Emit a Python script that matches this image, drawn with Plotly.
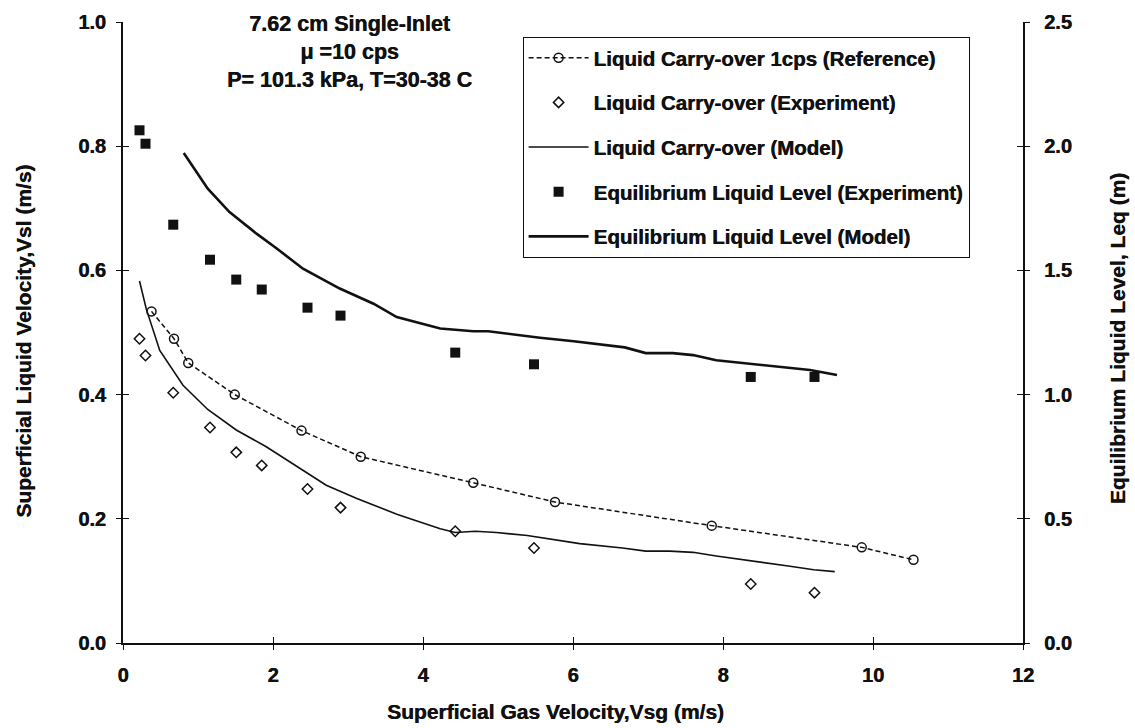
import plotly.graph_objects as go

# Liquid carry-over, 1 cps reference curve
vsg_ref = [0.38, 0.68, 0.87, 1.49, 2.38, 3.17, 4.67, 5.76, 7.85, 9.85, 10.54]
vsl_ref = [0.534, 0.490, 0.451, 0.400, 0.342, 0.300, 0.258, 0.227, 0.189, 0.154, 0.134]

# Experimental points (shared gas velocities)
vsg_exp = [0.22, 0.30, 0.67, 1.16, 1.51, 1.85, 2.46, 2.90, 4.43, 5.48, 8.37, 9.22]
vsl_exp = [0.490, 0.463, 0.403, 0.347, 0.307, 0.286, 0.248, 0.218, 0.180, 0.153, 0.095, 0.081]
leq_exp = [2.064, 2.010, 1.684, 1.543, 1.463, 1.423, 1.350, 1.318, 1.169, 1.122, 1.071, 1.071]

# Liquid carry-over model
vsg_mod = [0.22, 0.31, 0.49, 0.80, 1.13, 1.51, 1.91, 2.40, 2.71, 3.11, 3.66, 4.23, 4.43,
           4.70, 4.98, 5.39, 5.75, 6.09, 6.66, 6.97, 7.29, 7.60, 7.91, 8.29, 8.56, 8.87,
           9.21, 9.49]
vsl_mod = [0.583, 0.538, 0.471, 0.415, 0.376, 0.343, 0.316, 0.278, 0.254, 0.233, 0.207,
           0.184, 0.178, 0.180, 0.178, 0.173, 0.166, 0.160, 0.153, 0.148, 0.148, 0.146,
           0.140, 0.134, 0.129, 0.124, 0.118, 0.115]

# Equilibrium liquid level model
vsg_eqm = [0.81, 1.13, 1.42, 1.78, 2.05, 2.40, 2.89, 3.34, 3.65, 4.23, 4.67, 4.87, 5.56,
           6.01, 6.69, 6.97, 7.33, 7.60, 7.91, 8.34, 9.16, 9.52]
leq_mod = [1.973, 1.829, 1.735, 1.648, 1.588, 1.507, 1.427, 1.366, 1.312, 1.266, 1.255,
           1.255, 1.229, 1.215, 1.190, 1.167, 1.167, 1.159, 1.138, 1.125, 1.099, 1.079]

x_ticks = [0, 2, 4, 6, 8, 10, 12]
y_ticks = [0.0, 0.2, 0.4, 0.6, 0.8, 1.0]
y2_ticks = [0.0, 0.5, 1.0, 1.5, 2.0, 2.5]

FONT = "Liberation Sans, Arial, sans-serif"
INK = "#111111"
HEAVY = "0.45px 0px 0px #111111"


def bold(size):
    return dict(family=FONT, size=size, color=INK, weight="bold", shadow=HEAVY)


fig = go.Figure()

fig.add_trace(go.Scatter(
    x=vsg_ref, y=vsl_ref, mode="lines+markers",
    name="Liquid Carry-over 1cps (Reference)", legendgroup="a",
    line=dict(color=INK, width=1.5, dash="5px,3px"),
    marker=dict(symbol="circle-open", size=9, color=INK, line=dict(width=1.5)),
))
fig.add_trace(go.Scatter(
    x=vsg_exp, y=vsl_exp, mode="markers",
    name="Liquid Carry-over (Experiment)", legendgroup="b",
    marker=dict(symbol="diamond-open", size=8, color=INK, line=dict(width=1.5)),
))
fig.add_trace(go.Scatter(
    x=vsg_mod, y=vsl_mod, mode="lines",
    name="Liquid Carry-over (Model)", legendgroup="c",
    line=dict(color=INK, width=1.6),
))
fig.add_trace(go.Scatter(
    x=vsg_exp, y=leq_exp, mode="markers", yaxis="y2",
    name="Equilibrium Liquid Level (Experiment)", legendgroup="d",
    marker=dict(symbol="square", size=10, color=INK),
))
fig.add_trace(go.Scatter(
    x=vsg_eqm, y=leq_mod, mode="lines", yaxis="y2",
    name="Equilibrium Liquid Level (Model)", legendgroup="e",
    line=dict(color=INK, width=2.6),
))

# Empty traces that carry the overlay axes drawing the inner half of each tick
fig.add_trace(go.Scatter(x=[], y=[], xaxis="x2", yaxis="y3", showlegend=False, hoverinfo="skip"))
fig.add_trace(go.Scatter(x=[], y=[], xaxis="x2", yaxis="y4", showlegend=False, hoverinfo="skip"))

axis_common = dict(
    showgrid=False, zeroline=False, showline=True, linecolor=INK, linewidth=2,
    ticks="outside", ticklen=5, tickwidth=1, tickcolor=INK, tickfont=bold(20),
)
inner_ticks = dict(
    showgrid=False, zeroline=False, showline=False, showticklabels=False,
    ticks="inside", ticklen=6, tickwidth=1, tickcolor=INK,
)

fig.update_layout(
    width=1135, height=728,
    margin=dict(l=123, r=112, t=22, b=85),
    paper_bgcolor="white", plot_bgcolor="white",
    font=bold(20),
    xaxis=dict(range=[0, 12], tickvals=x_ticks, ticktext=[str(v) for v in x_ticks],
               ticklabelstandoff=8, **axis_common),
    yaxis=dict(range=[0, 1.0], tickvals=y_ticks, ticktext=[f"{v:.1f}" for v in y_ticks],
               ticklabelstandoff=6, **axis_common),
    yaxis2=dict(range=[0, 2.5], tickvals=y2_ticks, ticktext=[f"{v:.1f}" for v in y2_ticks],
                overlaying="y", side="right", anchor="x", ticklabelstandoff=10, **axis_common),
    xaxis2=dict(range=[0, 12], tickvals=x_ticks, overlaying="x", anchor="y3", side="bottom",
                **inner_ticks),
    yaxis3=dict(range=[0, 1.0], tickvals=y_ticks, overlaying="y", anchor="x2", side="left",
                **inner_ticks),
    yaxis4=dict(range=[0, 2.5], tickvals=y2_ticks, overlaying="y", anchor="x2", side="right",
                **inner_ticks),
    legend=dict(
        x=0.444, y=0.976, xanchor="left", yanchor="top",
        bgcolor="white", bordercolor=INK, borderwidth=1,
        font=bold(20.5),
        tracegroupgap=15, itemwidth=60,
    ),
    showlegend=True,
)

fig.add_annotation(
    text="7.62 cm Single-Inlet<br>\u03bc =10 cps<br>P= 101.3 kPa, T=30-38 C",
    xref="paper", yref="paper", x=0.252, y=1.02, xanchor="center", yanchor="top",
    showarrow=False, font=bold(21.5),
)
fig.add_annotation(
    text="Superficial Gas Velocity,Vsg (m/s)",
    xref="paper", yref="paper", x=0.48, y=-0.11, xanchor="center", yanchor="middle",
    showarrow=False, font=bold(21),
)
fig.add_annotation(
    text="Superficial Liquid Velocity,Vsl (m/s)",
    xref="paper", yref="paper", x=-0.11, y=0.485, xanchor="center", yanchor="middle",
    textangle=-90, showarrow=False, font=bold(21),
)
fig.add_annotation(
    text="Equilibrium Liquid Level, Leq (m)",
    xref="paper", yref="paper", x=1.105, y=0.49, xanchor="center", yanchor="middle",
    textangle=-90, showarrow=False, font=bold(21),
)

fig.write_html("out.html")
